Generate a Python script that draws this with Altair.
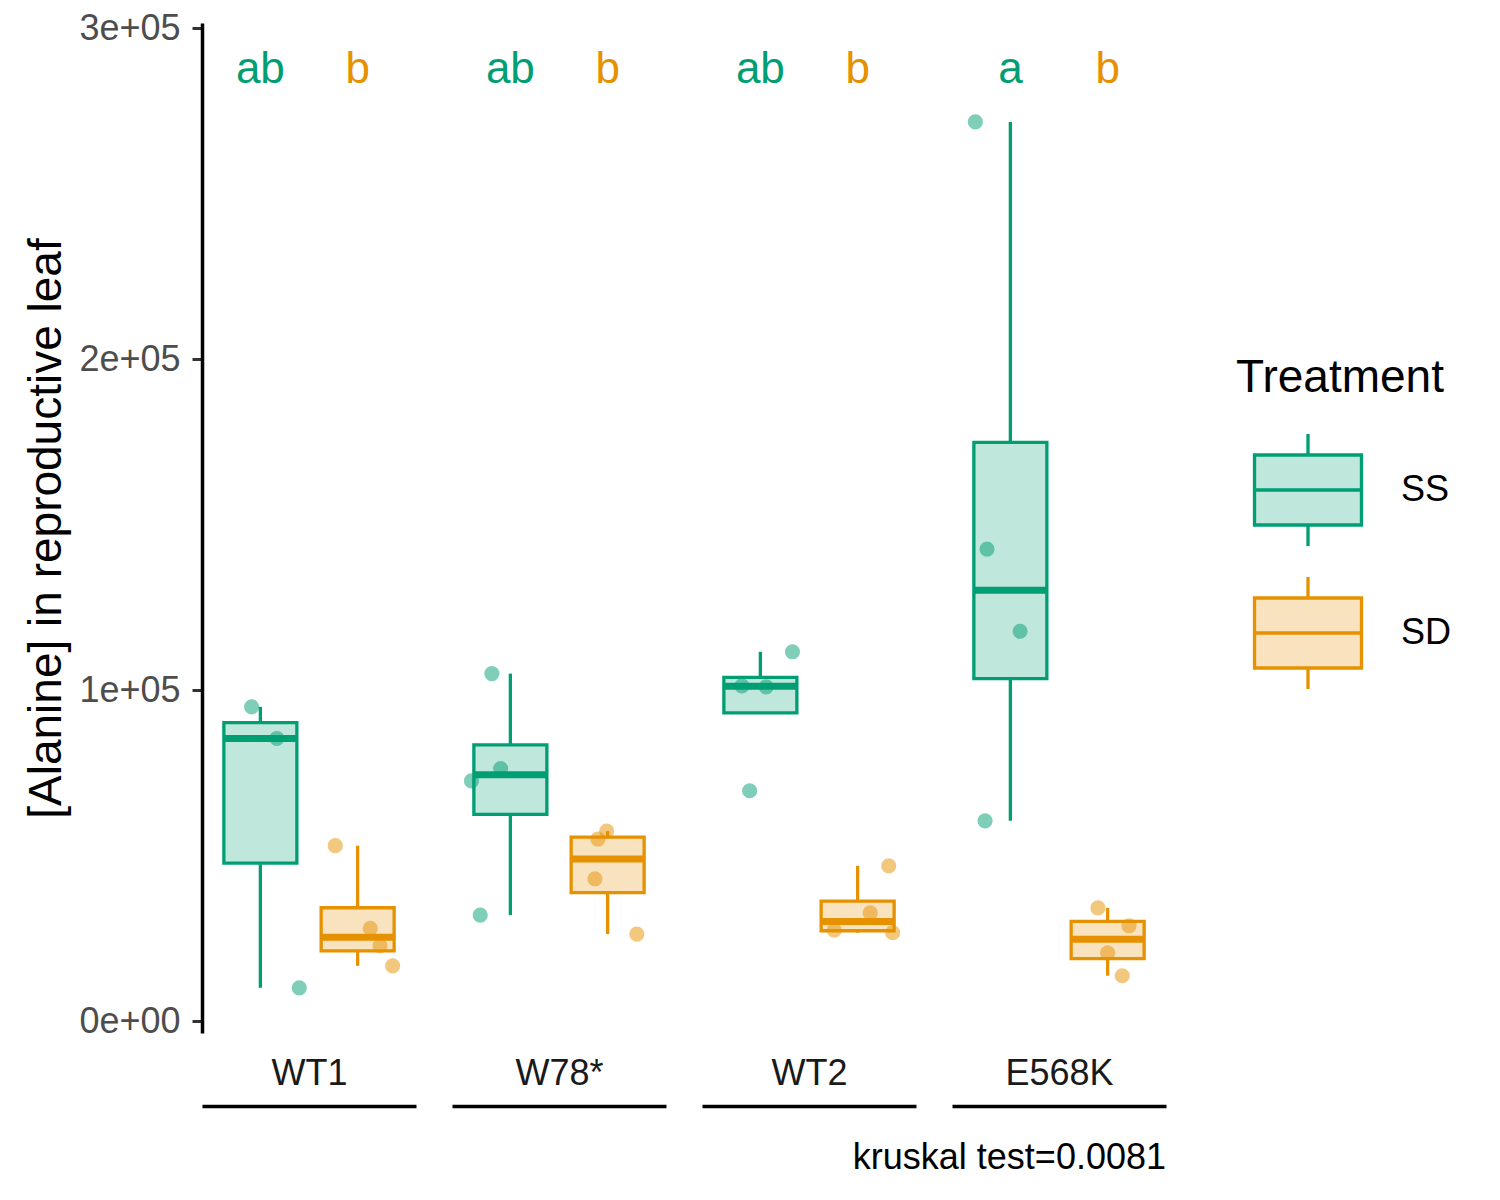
import altair as alt
import pandas as pd

FONT = "Liberation Sans"
GREEN = "#009E73"
ORANGE = "#E69100"
LIGHT_GREEN = "#BFE7DC"
LIGHT_ORANGE = "#F9E3BF"

groups = ["WT1", "W78*", "WT2", "E568K"]
treatments = ["SS", "SD"]

wt1_ss = [94960, 85400, 10060]
wt1_ss_jit = [-0.09, 0.17, 0.40]
wt1_sd = [53000, 28000, 22700, 16700]
wt1_sd_jit = [-0.23, 0.13, 0.23, 0.36]
w78_ss = [105000, 76300, 72600, 32000]
w78_ss_jit = [-0.19, -0.10, -0.40, -0.31]
w78_sd = [57400, 55000, 43000, 26300]
w78_sd_jit = [-0.01, -0.10, -0.13, 0.30]
wt2_ss = [111600, 101300, 101000, 69600]
wt2_ss_jit = [0.33, -0.19, 0.06, -0.11]
wt2_sd = [46900, 32700, 27500, 26700]
wt2_sd_jit = [0.32, 0.13, -0.24, 0.36]
e568k_ss = [271700, 142600, 117800, 60500]
e568k_ss_jit = [-0.36, -0.24, 0.10, -0.26]
e568k_sd = [34200, 28800, 20600, 13700]
e568k_sd_jit = [-0.10, 0.22, 0.00, 0.15]

letters_ss = ["ab", "ab", "ab", "a"]
letters_sd = ["b", "b", "b", "b"]
LETTER_Y = 287500

series = [
    ("WT1", "SS", wt1_ss, wt1_ss_jit), ("WT1", "SD", wt1_sd, wt1_sd_jit),
    ("W78*", "SS", w78_ss, w78_ss_jit), ("W78*", "SD", w78_sd, w78_sd_jit),
    ("WT2", "SS", wt2_ss, wt2_ss_jit), ("WT2", "SD", wt2_sd, wt2_sd_jit),
    ("E568K", "SS", e568k_ss, e568k_ss_jit), ("E568K", "SD", e568k_sd, e568k_sd_jit),
]
rows = []
for g, t, vals, jits in series:
    for v, j in zip(vals, jits):
        rows.append({"Group": g, "Treatment": t, "Value": v, "Jitter": j})
df = pd.DataFrame(rows)

lrows = []
for g, a, b in zip(groups, letters_ss, letters_sd):
    lrows.append({"Group": g, "Treatment": "SS", "Letter": a})
    lrows.append({"Group": g, "Treatment": "SD", "Letter": b})
letters_df = pd.DataFrame(lrows)

PANEL_W = 214
PANEL_H = 1010

yscale = alt.Scale(domain=[-3600, 301600], nice=False, zero=False)
fill_scale = alt.Scale(domain=treatments, range=[LIGHT_GREEN, LIGHT_ORANGE])
stroke_scale = alt.Scale(domain=treatments, range=[GREEN, ORANGE])
# same mapping, listed in the other order so it is not merged with the legend scales
color_scale = alt.Scale(domain=treatments[::-1], range=[ORANGE, GREEN])

LEGEND_PATH = ("M-0.764,-0.5H0.764V0.5H-0.764Z M-0.764,0H0.764 "
               "M0,-0.5V-0.8 M0,0.5V0.8")
legend = alt.Legend(
    title="Treatment", orient="none", legendX=1034, legendY=333,
    direction="vertical", padding=0,
    symbolType=LEGEND_PATH, symbolSize=19600, symbolStrokeWidth=3.3,
    labelFont=FONT, labelFontSize=36, labelColor="black", labelOffset=21,
    titleFont=FONT, titleFontSize=46, titleFontWeight="normal", titleLimit=500,
    titleColor="black", titlePadding=16, rowPadding=8,
)


def yaxis(first):
    if not first:
        return None
    return alt.Axis(
        title="[Alanine] in reproductive leaf", values=[0, 100000, 200000, 300000],
        labelExpr="datum.value == 0 ? '0e+00' : format(datum.value / 100000, 'd') + 'e+05'",
        labelFont=FONT, labelFontSize=36, labelColor="#4D4D4D", labelPadding=12,
        tickColor="#333333", tickWidth=3, tickSize=10,
        domainColor="black", domainWidth=3.5, grid=False,
        titleFont=FONT, titleFontSize=46, titleFontWeight="normal",
        titleColor="black", titlePadding=8,
    )


def xenc(g):
    return alt.X(
        "Treatment:N", sort=treatments,
        scale=alt.Scale(type="band", domain=treatments, paddingInner=0, paddingOuter=0.1),
        axis=alt.Axis(
            labels=False, ticks=False, grid=False, domain=True,
            domainColor="black", domainWidth=3.5, domainCap="butt", offset=73,
            title=g, titleY=-22, titleBaseline="alphabetic", titleFont=FONT,
            titleFontSize=36, titleFontWeight="normal", titleColor="#1A1A1A",
        ),
    )


def panel(i, g):
    first = i == 0
    ya = yaxis(first)
    x = xenc(g)
    base = alt.Chart(df).transform_filter(alt.datum.Group == g)
    stats = (
        base.transform_joinaggregate(
            q1="q1(Value)", q3="q3(Value)", med="median(Value)", groupby=["Treatment"])
        .transform_calculate(
            lf="datum.q1 - 1.5 * (datum.q3 - datum.q1)",
            uf="datum.q3 + 1.5 * (datum.q3 - datum.q1)")
        .transform_filter("datum.Value >= datum.lf && datum.Value <= datum.uf")
        .transform_aggregate(
            lo="min(Value)", hi="max(Value)", groupby=["Treatment", "q1", "q3", "med"])
        .transform_calculate(lo2="min(datum.lo, datum.q1)", hi2="max(datum.hi, datum.q3)")
    )
    color = alt.Color("Treatment:N", scale=color_scale, legend=None)
    low_rule = stats.mark_rule(strokeWidth=3.3, opacity=1).encode(
        x=x, y=alt.Y("lo2:Q", scale=yscale, axis=ya), y2="q1:Q", color=color)
    high_rule = stats.mark_rule(strokeWidth=3.3, opacity=1).encode(
        x=x, y=alt.Y("q3:Q", scale=yscale, axis=ya), y2="hi2:Q", color=color)
    box = stats.mark_bar(width=73, strokeWidth=3.3, opacity=1).encode(
        x=x, y=alt.Y("q1:Q", scale=yscale, axis=ya), y2="q3:Q",
        fill=alt.Fill("Treatment:N", scale=fill_scale, legend=legend),
        stroke=alt.Stroke("Treatment:N", scale=stroke_scale, legend=legend),
    )
    med = stats.mark_tick(size=74, thickness=7, opacity=1).encode(
        x=x, y=alt.Y("med:Q", scale=yscale, axis=ya), color=color)
    pts = base.mark_circle(size=230, opacity=0.5).encode(
        x=x,
        xOffset=alt.XOffset("Jitter:Q", scale=alt.Scale(domain=[-0.5, 0.5])),
        y=alt.Y("Value:Q", scale=yscale, axis=ya),
        color=color,
    )
    txt = alt.Chart(letters_df).transform_filter(alt.datum.Group == g).mark_text(
        font=FONT, fontSize=44, baseline="middle", align="center"
    ).encode(
        x=x, y=alt.YDatum(LETTER_Y, type="quantitative", scale=yscale, axis=ya),
        text="Letter:N", color=color,
    )
    layer = alt.layer(low_rule, high_rule, box, med, pts, txt).properties(
        width=PANEL_W, height=PANEL_H)
    if i == len(groups) - 1:
        layer = layer.properties(title=alt.TitleParams(
            "kruskal test=0.0081", orient="bottom", anchor="end", offset=35,
            font=FONT, fontSize=36, fontWeight="normal", color="black"))
    return layer


panels = [panel(i, g) for i, g in enumerate(groups)]
chart = (
    alt.hconcat(*panels, spacing=36, bounds="flush")
    .resolve_scale(x="shared", y="shared")
    .properties(padding={"left": 15, "top": 2, "right": 10, "bottom": 10},
                background="white")
    .configure_view(stroke=None)
)

chart.save("out.html", embed_options={"renderer": "svg", "actions": False})
